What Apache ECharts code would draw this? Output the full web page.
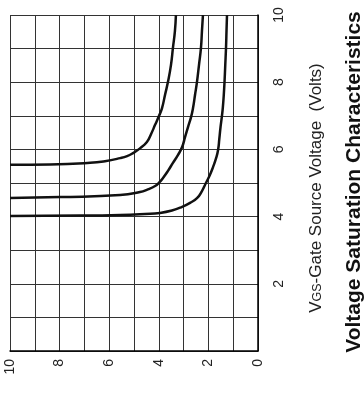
<!DOCTYPE html>
<html>
<head>
<meta charset="utf-8">
<script src="https://cdn.jsdelivr.net/npm/echarts@6/dist/echarts.min.js"></script>
<style>
  html, body { margin: 0; padding: 0; background: #fff; }
  #chart { width: 364px; height: 406px; }
</style>
</head>
<body>
<div id="chart"></div>
<script>
// Ticks for both axes (0..10 volts, gridline every volt, label every 2)
const axisTicks = [0, 2, 4, 6, 8, 10];

// Three saturation curves: gate-source voltage vs. the resulting voltage
const curveA_vgs = [5.54, 5.55, 5.60, 5.65, 5.74, 5.80, 5.89, 6.03, 6.22, 6.46, 6.73, 7.00, 7.23, 7.62, 8.01, 8.51, 9.02, 9.52, 10.0];
const curveA_v   = [10.0, 8.39, 6.77, 6.17, 5.56, 5.28, 5.04, 4.76, 4.48, 4.31, 4.15, 3.99, 3.87, 3.75, 3.63, 3.51, 3.43, 3.35, 3.31];

const curveB_vgs = [4.55, 4.58, 4.64, 4.73, 4.81, 4.91, 5.01, 5.15, 5.36, 5.60, 5.83, 6.07, 6.37, 6.67, 6.96, 7.23, 7.62, 8.01, 8.51, 9.02, 9.52, 10.0];
const curveB_v   = [10.0, 7.98, 5.56, 4.76, 4.44, 4.15, 3.99, 3.83, 3.63, 3.43, 3.23, 3.06, 2.94, 2.82, 2.70, 2.62, 2.54, 2.46, 2.38, 2.30, 2.26, 2.22];

const curveC_vgs = [4.02, 4.03, 4.05, 4.08, 4.11, 4.18, 4.29, 4.41, 4.55, 4.76, 5.00, 5.24, 5.48, 5.74, 5.98, 6.31, 6.67, 6.96, 7.23, 7.62, 8.01, 8.51, 9.02, 9.52, 10.0];
const curveC_v   = [10.0, 7.18, 5.56, 4.56, 3.95, 3.47, 3.06, 2.74, 2.46, 2.26, 2.10, 1.94, 1.81, 1.69, 1.61, 1.56, 1.51, 1.46, 1.42, 1.38, 1.35, 1.32, 1.29, 1.27, 1.25];

const FONT = 'Liberation Sans, Arial, sans-serif';

// The plot is laid out sideways: gate voltage runs up the right-hand axis,
// the other voltage runs along the bottom axis from 10 (left) to 0 (right).
function pairs(vArr, gArr) {
  return vArr.map((v, i) => [v, gArr[i]]);
}

function curve(vArr, gArr) {
  return {
    type: 'line',
    data: pairs(vArr, gArr),
    smooth: 0.5,
    symbol: 'none',
    lineStyle: { color: '#111', width: 2.5 },
    clip: true,
    silent: true
  };
}

const chart = echarts.init(document.getElementById('chart'), null, { renderer: 'canvas' });

chart.setOption({
  animation: false,
  backgroundColor: '#fff',
  grid: { left: 10, top: 15, right: 106, bottom: 55, containLabel: false },
  xAxis: {
    type: 'value',
    inverse: true,
    min: 0, max: 10, interval: 1,
    position: 'bottom',
    axisLine: { show: true, lineStyle: { color: '#000', width: 1.5 } },
    axisTick: { show: false },
    splitLine: { show: true, lineStyle: { color: '#333', width: 1 } },
    axisLabel: {
      rotate: 90,
      margin: 8,
      fontSize: 14,
      color: '#222',
      fontFamily: FONT,
      formatter: v => axisTicks.includes(v) ? String(v) : ''
    }
  },
  yAxis: {
    type: 'value',
    min: 0, max: 10, interval: 1,
    position: 'right',
    axisLine: { show: true, lineStyle: { color: '#000', width: 1.5 } },
    axisTick: { show: false },
    splitLine: { show: true, lineStyle: { color: '#333', width: 1 } },
    axisLabel: {
      rotate: 90,
      margin: 14,
      fontSize: 14,
      color: '#222',
      fontFamily: FONT,
      formatter: v => (v !== 0 && axisTicks.includes(v)) ? String(v) : ''
    }
  },
  series: [
    curve(curveA_v, curveA_vgs),
    curve(curveB_v, curveB_vgs),
    curve(curveC_v, curveC_vgs)
  ],
  graphic: [
    {
      type: 'text',
      x: 316, y: 188,
      rotation: Math.PI / 2,
      style: {
        text: '{v|V}{s|GS}{v|-Gate Source Voltage  (Volts)}',
        align: 'center',
        verticalAlign: 'middle',
        fill: '#222',
        rich: {
          v: { fontSize: 17, fontFamily: FONT, fill: '#222' },
          s: { fontSize: 12.5, fontFamily: FONT, fill: '#222', padding: [4, 0, 0, 0] }
        }
      }
    },
    {
      type: 'text',
      x: 354, y: 182,
      rotation: Math.PI / 2,
      style: {
        text: 'Voltage Saturation Characteristics',
        align: 'center',
        verticalAlign: 'middle',
        fontSize: 21,
        fontWeight: 'bold',
        fontFamily: FONT,
        fill: '#111'
      }
    }
  ]
});
</script>
</body>
</html>
